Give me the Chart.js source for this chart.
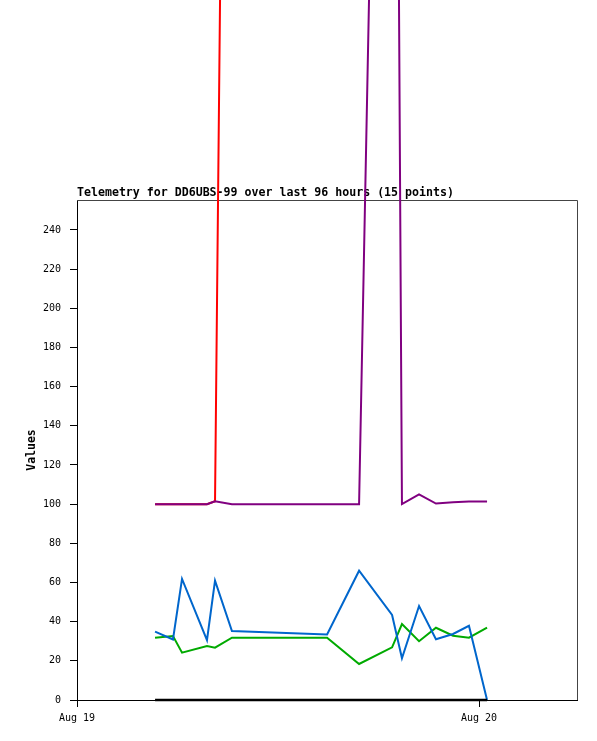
<!DOCTYPE html>
<html>
<head>
<meta charset="utf-8">
<script src="https://cdn.jsdelivr.net/npm/chart.js@4/dist/chart.umd.min.js"></script>
<style>
  html, body { margin: 0; padding: 0; background: #ffffff; }
  canvas { display: block; }
</style>
</head>
<body>
<canvas id="c" width="597" height="741"></canvas>
<script>
// Hours since Aug 19 00:00 for each telemetry point
const hours = [4.66, 5.73, 6.27, 7.76, 8.24, 9.25, 14.93, 16.84, 18.81, 19.40, 20.42, 21.43, 22.45, 23.40, 24.48];

const chRed    = [100, 100, 100, 100, 101.5, 965, 965, 965, 965, 965, 965, 965, 965, 965, 965];
const chPurple = [100, 100, 100, 100, 101.5, 100, 100, 100, 955, 100, 105, 100.3, 101, 101.3, 101.3];
const chGreen  = [31.8, 32.7, 24.2, 27.6, 26.7, 31.8, 31.8, 18.4, 26.9, 38.8, 30.0, 36.9, 32.8, 31.8, 36.9];
const chBlue   = [34.9, 30.9, 61.8, 30.6, 60.9, 35.2, 33.5, 66.0, 43.4, 21.3, 48.0, 31.0, 33.7, 37.9, 0];
const chBlack  = [0, 0, 0, 0, 0, 0, 0, 0, 0, 0, 0, 0, 0, 0, 0];

const xTickHours  = [0, 24];
const xTickLabels = ['Aug 19', 'Aug 20'];
const xMin = 0, xMax = 29.85;
const yTicks = [0, 20, 40, 60, 80, 100, 120, 140, 160, 180, 200, 220, 240];
const yMin = 0, yMax = 255.3;

const titleText = 'Telemetry for DD6UBS-99 over last 96 hours (15 points)';
const yTitle = 'Values';

function pts(arr) { return arr.map((v, i) => ({ x: hours[i], y: v })); }

function ds(arr, color, order, width) {
  return {
    data: pts(arr),
    borderColor: color,
    backgroundColor: color,
    borderWidth: width || 2,
    pointRadius: 0,
    pointHoverRadius: 0,
    tension: 0,
    fill: false,
    clip: false,
    order: order
  };
}

const frame = {
  id: 'frame',
  beforeDatasetsDraw(chart) {
    const { ctx, chartArea: a } = chart;
    ctx.save();
    ctx.strokeStyle = '#444444';
    ctx.lineWidth = 1;
    ctx.beginPath();
    ctx.moveTo(a.left, a.top + 0.5);
    ctx.lineTo(a.right + 0.5, a.top + 0.5);
    ctx.lineTo(a.right + 0.5, a.bottom);
    ctx.stroke();
    ctx.fillStyle = '#000000';
    ctx.font = 'bold 11.6px "DejaVu Sans Mono"';
    ctx.textAlign = 'left';
    ctx.textBaseline = 'alphabetic';
    ctx.fillText(titleText, a.left, a.top - 4);
    ctx.restore();
  }
};

new Chart(document.getElementById('c'), {
  type: 'line',
  data: {
    datasets: [
      ds(chBlack, '#000000', 1, 2.5),
      ds(chBlue, '#0066cc', 2),
      ds(chGreen, '#00aa00', 3),
      ds(chPurple, '#800080', 4),
      ds(chRed, '#ff0000', 5)
    ]
  },
  options: {
    responsive: false,
    animation: false,
    devicePixelRatio: 1,
    layout: { padding: { top: 200, right: 20, left: 0, bottom: 0 } },
    plugins: { legend: { display: false }, tooltip: { enabled: false }, title: { display: false } },
    scales: {
      x: {
        type: 'linear',
        min: xMin,
        max: xMax,
        afterBuildTicks: s => { s.ticks = xTickHours.map(v => ({ value: v })); },
        afterFit: s => { s.height = 41; },
        ticks: {
          autoSkip: false,
          maxRotation: 0,
          color: '#000000',
          padding: 5,
          font: { family: 'DejaVu Sans Mono', size: 10 },
          callback: (v, i) => xTickLabels[i]
        },
        grid: { drawOnChartArea: false, drawTicks: true, tickLength: 7, tickColor: '#000000', tickWidth: 1 },
        border: { display: true, color: '#000000', width: 1 }
      },
      y: {
        type: 'linear',
        min: yMin,
        max: yMax,
        afterBuildTicks: s => { s.ticks = yTicks.map(v => ({ value: v })); },
        afterFit: s => { s.width = 77; },
        ticks: {
          autoSkip: false,
          color: '#000000',
          padding: 9,
          font: { family: 'DejaVu Sans Mono', size: 10 },
          callback: (v, i) => String(yTicks[i])
        },
        grid: { drawOnChartArea: false, drawTicks: true, tickLength: 7, tickColor: '#000000', tickWidth: 1 },
        border: { display: true, color: '#000000', width: 1 },
        title: {
          display: true,
          text: yTitle,
          color: '#000000',
          font: { family: 'DejaVu Sans Mono', size: 11.5, weight: 'bold' },
          padding: { top: 25, bottom: 0 }
        }
      }
    }
  },
  plugins: [frame]
});
</script>
</body>
</html>
